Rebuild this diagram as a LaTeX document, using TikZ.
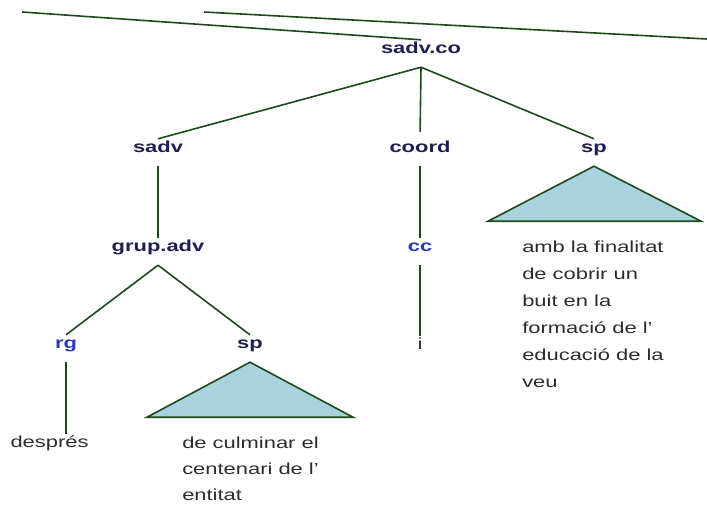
\documentclass[tikz,border=0pt]{standalone}
\usepackage{fontspec}
\setmainfont{Liberation Sans}
\definecolor{treeline}{HTML}{1D4A1D}
\definecolor{catnavy}{HTML}{1E1E50}
\definecolor{posblue}{HTML}{2A3AB4}
\definecolor{leafgray}{HTML}{2C2C2C}
\definecolor{triblue}{HTML}{A8D2DE}
\usetikzlibrary{calc}

\begin{document}
\begin{tikzpicture}[x=1pt,y=-1pt,
    cat/.style={anchor=base,font=\fontsize{16}{19}\selectfont\bfseries,text=catnavy,
      xscale=1.37,inner xsep=0pt,inner ysep=2pt,text height=11pt,text depth=12pt},
    tagcat/.style={cat,text=posblue},
    leaf/.style={anchor=base,font=\fontsize{16}{19}\selectfont,text=leafgray,
      xscale=1.37,inner xsep=0pt,inner ysep=2pt,text height=11pt},
    leafblock/.style={anchor=north west,align=left,inner sep=0pt,text=leafgray,xscale=1.37},
    branch/.style={treeline,line width=1.6pt},
    roof/.style={branch,fill=triblue,line join=miter}]
        \useasboundingbox (0,0) rectangle (707,504);
        \coordinate (topa) at (22,12);
        \coordinate (topb) at (204,12);
        \coordinate (topc) at (707,39);
        \node[cat] (sadvco) at (421,53) {sadv.co};
        \node[cat] (sadv) at (158,152) {sadv};
        \node[cat] (coord) at (420,152) {coord};
        \node[cat] (spa) at (594,152) {sp};
        \node[cat] (grupadv) at (158,251) {grup.adv};
        \node[tagcat] (cc) at (420,251) {cc};
        \node[tagcat] (rg) at (66,348) {rg};
        \node[cat] (spb) at (250,348) {sp};
        \node[leaf] (desp) at (49.5,447) {després};
        \node[leaf] (ileaf) at (420,349) {i};
        \node[leafblock,font=\fontsize{16}{27}\selectfont] (texta) at (522,240.3)
          {amb la finalitat\\de cobrir un\\buit en la\\formació de l’\\educació de la\\veu};
        \node[leafblock,font=\fontsize{16}{26}\selectfont] (textb) at (182,436.5)
          {de culminar el\\centenari de l’\\entitat};
        \draw[branch] (topa) -- (sadvco.north);
        \draw[branch] (topb) -- (topc);
        \draw[branch] (sadvco.south) -- (sadv.north);
        \draw[branch,shorten >=7pt] (sadvco.south) -- (coord.north);
        \draw[branch] (sadvco.south) -- (spa.north);
        \draw[branch] (sadv.south) -- (grupadv.north);
        \draw[branch] (coord.south) -- (cc.north);
        \draw[branch] (cc.south) -- (ileaf.north);
        \draw[roof] (spa.south) -- ++(-106,55) -- ++(213,0) -- cycle;
        \draw[branch] (grupadv.south) -- (rg.north);
        \draw[branch] (grupadv.south) -- (spb.north);
        \draw[branch] (rg.south) -- (rg.south |- desp.north);
        \draw[roof] (spb.south) -- ++(-103,55) -- ++(206,0) -- cycle;
      \end{tikzpicture}
\end{document}
